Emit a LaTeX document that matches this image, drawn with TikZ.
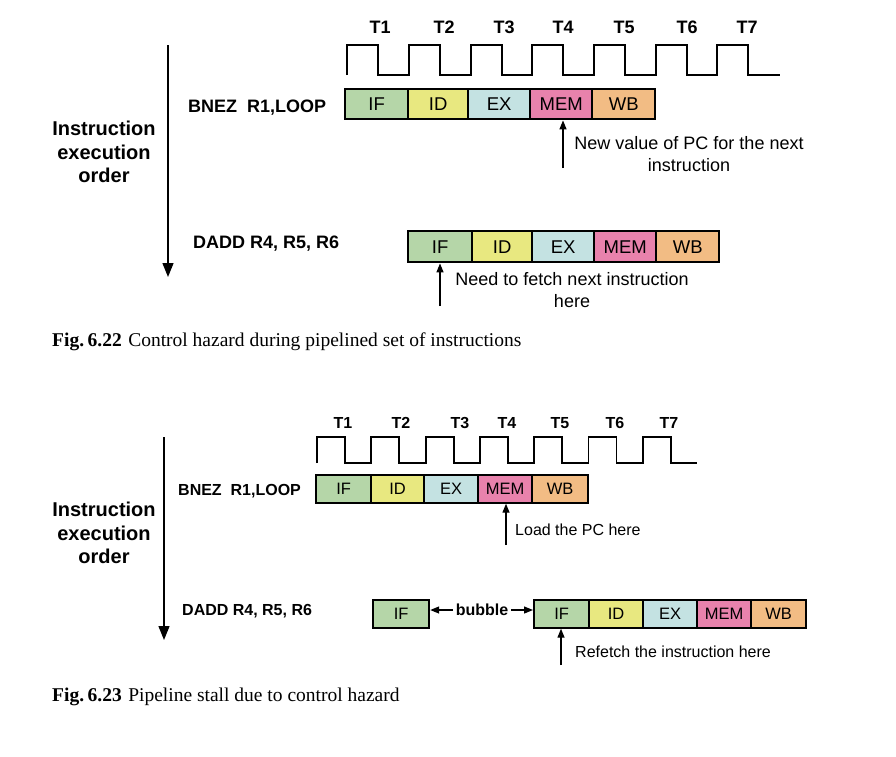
\documentclass[tikz,border=0pt]{standalone}
\usepackage{fontspec}
\setmainfont{Liberation Serif}
\newfontfamily\arialf{Liberation Sans}
\usetikzlibrary{arrows.meta}
\definecolor{cIF}{RGB}{181,214,168}
\definecolor{cID}{RGB}{232,232,128}
\definecolor{cEX}{RGB}{196,226,226}
\definecolor{cMEM}{RGB}{232,130,172}
\definecolor{cWB}{RGB}{242,188,132}
\begin{document}
\begin{tikzpicture}[x=1pt,y=-1pt,
  stagebig/.style={draw, line width=2.4pt, inner sep=0pt, anchor=north west, minimum height=30pt, font=\arialf\fontsize{18.5}{18.5}\selectfont},
  stagesmall/.style={draw, line width=2.2pt, inner sep=0pt, anchor=north west, minimum height=27.5pt, font=\arialf\fontsize{16.5}{16.5}\selectfont},
  clk/.style={line width=1.8pt},
  tbig/.style={inner sep=0pt, font=\arialf\bfseries\fontsize{18}{18}\selectfont},
  tsmall/.style={inner sep=0pt, font=\arialf\bfseries\fontsize{16}{16}\selectfont},
  order/.style={inner sep=0pt, align=center, font=\arialf\bfseries\fontsize{20}{23.5}\selectfont},
  instbig/.style={inner sep=0pt, anchor=west, font=\arialf\bfseries\fontsize{18}{18}\selectfont},
  instsmall/.style={inner sep=0pt, anchor=west, font=\arialf\bfseries\fontsize{16}{16}\selectfont},
  notebig/.style={inner sep=0pt, align=center, font=\arialf\fontsize{18}{21.5}\selectfont},
  notesmall/.style={inner sep=0pt, anchor=west, font=\arialf\fontsize{16}{16}\selectfont},
  bigarrow/.style={line width=1.3pt, -{Triangle[length=14pt,width=11pt]}},
  smallarrow/.style={line width=1.3pt, -{Triangle[length=9pt,width=7pt]}},
  caption/.style={inner sep=0pt, anchor=base west, font=\fontsize{19.5}{20}\selectfont}
]
\useasboundingbox (0,0) rectangle (896,756);

% ================= Fig 6.22 =================
% clock
\draw[clk] (347.3,75) foreach \i in {0,...,6} {
  -- ({347.3+61.67*\i},75) -- ({347.3+61.67*\i},45) -- ({378.3+61.67*\i},45) -- ({378.3+61.67*\i},75) } -- (780,75);
\node[tbig] (ta1) at (380,27) {T1};
\node[tbig] (ta2) at (444,27) {T2};
\node[tbig] (ta3) at (504,27) {T3};
\node[tbig] (ta4) at (563,27) {T4};
\node[tbig] (ta5) at (624,27) {T5};
\node[tbig] (ta6) at (687,27) {T6};
\node[tbig] (ta7) at (747,27) {T7};

% order arrow and labels
\coordinate (oa1) at (168,45);
\coordinate (oa2) at (168,277);
\draw[bigarrow] (oa1) -- (oa2);
\node[order] (orda) at (104,152) {Instruction\\execution\\order};
\node[instbig] (bneza) at (188,108) {BNEZ\ \ R1,LOOP};
\node[instbig] (dadda) at (193,244) {DADD R4, R5, R6};

% row 1
\node[stagebig, fill=cIF,  minimum width=63pt] (a1) at (344,88) {IF};
\node[stagebig, fill=cID,  minimum width=60pt] (a2) at (407,88) {ID};
\node[stagebig, fill=cEX,  minimum width=62pt] (a3) at (467,88) {EX};
\node[stagebig, fill=cMEM, minimum width=62pt] (a4) at (529,88) {MEM};
\node[stagebig, fill=cWB,  minimum width=63pt] (a5) at (591,88) {WB};

% row 2
\node[stagebig, fill=cIF,  minimum width=64pt, minimum height=31pt] (b1) at (407,230) {IF};
\node[stagebig, fill=cID,  minimum width=60pt, minimum height=31pt] (b2) at (471,230) {ID};
\node[stagebig, fill=cEX,  minimum width=62pt, minimum height=31pt] (b3) at (531,230) {EX};
\node[stagebig, fill=cMEM, minimum width=62pt, minimum height=31pt] (b4) at (593,230) {MEM};
\node[stagebig, fill=cWB,  minimum width=63pt, minimum height=31pt] (b5) at (655,230) {WB};

% annotations
\coordinate (pa) at (563,168);
\draw[smallarrow] (pa) -- (pa |- a4.south);
\node[notebig] (notea) at (689,154) {New value of PC for the next\\instruction};
\coordinate (pb) at (440,306);
\draw[smallarrow] (pb) -- (pb |- b1.south);
\node[notebig] (noteb) at (572,290) {Need to fetch next instruction\\here};

\node[caption] (cap1) at (52,346) {\textbf{Fig.\hspace{3.5pt}6.22}\hspace{6.5pt}Control hazard during pipelined set of instructions};

% ================= Fig 6.23 =================
\draw[clk] (317,463) foreach \i in {0,...,6} {
  -- ({317+54.3*\i},463) -- ({317+54.3*\i},437) -- ({345+54.3*\i},437) -- ({345+54.3*\i},463) } -- (697,463);
\node[tsmall] (tb1) at (343,423) {T1};
\node[tsmall] (tb2) at (401,423) {T2};
\node[tsmall] (tb3) at (460,423) {T3};
\node[tsmall] (tb4) at (507,423) {T4};
\node[tsmall] (tb5) at (560,423) {T5};
\node[tsmall] (tb6) at (615,423) {T6};
\node[tsmall] (tb7) at (669,423) {T7};

\coordinate (ob1) at (164,437);
\coordinate (ob2) at (164,640);
\draw[bigarrow] (ob1) -- (ob2);
\node[order] (ordb) at (104,533) {Instruction\\execution\\order};
\node[instsmall] (bnezb) at (178,491) {BNEZ\ \ R1,LOOP};
\node[instsmall] (daddb) at (182,611) {DADD R4, R5, R6};

% row 1
\node[stagesmall, fill=cIF,  minimum width=55pt] (c1) at (315,474) {IF};
\node[stagesmall, fill=cID,  minimum width=53pt] (c2) at (370,474) {ID};
\node[stagesmall, fill=cEX,  minimum width=54pt] (c3) at (423,474) {EX};
\node[stagesmall, fill=cMEM, minimum width=54pt] (c4) at (477,474) {MEM};
\node[stagesmall, fill=cWB,  minimum width=56pt] (c5) at (531,474) {WB};

% row 2
\node[stagesmall, fill=cIF,  minimum width=56pt] (d0) at (372,599) {IF};
\node[stagesmall, fill=cIF,  minimum width=55pt] (d1) at (533,599) {IF};
\node[stagesmall, fill=cID,  minimum width=54pt] (d2) at (588,599) {ID};
\node[stagesmall, fill=cEX,  minimum width=54pt] (d3) at (642,599) {EX};
\node[stagesmall, fill=cMEM, minimum width=54pt] (d4) at (696,599) {MEM};
\node[stagesmall, fill=cWB,  minimum width=55pt] (d5) at (750,599) {WB};

\node[tsmall, inner xsep=3pt] (bub) at (482,610) {bubble};
\draw[smallarrow] (bub.west) -- (d0.east |- bub.west);
\draw[smallarrow] (bub.east) -- (d1.west |- bub.east);

\coordinate (pc) at (506,545);
\draw[smallarrow] (pc) -- (pc |- c4.south);
\node[notesmall] (notec) at (515,530) {Load the PC here};
\coordinate (pd) at (561,665);
\draw[smallarrow] (pd) -- (pd |- d1.south);
\node[notesmall] (noted) at (575,652) {Refetch the instruction here};

\node[caption] (cap2) at (52,701) {\textbf{Fig.\hspace{3.5pt}6.23}\hspace{6.5pt}Pipeline stall due to control hazard};
\end{tikzpicture}
\end{document}
